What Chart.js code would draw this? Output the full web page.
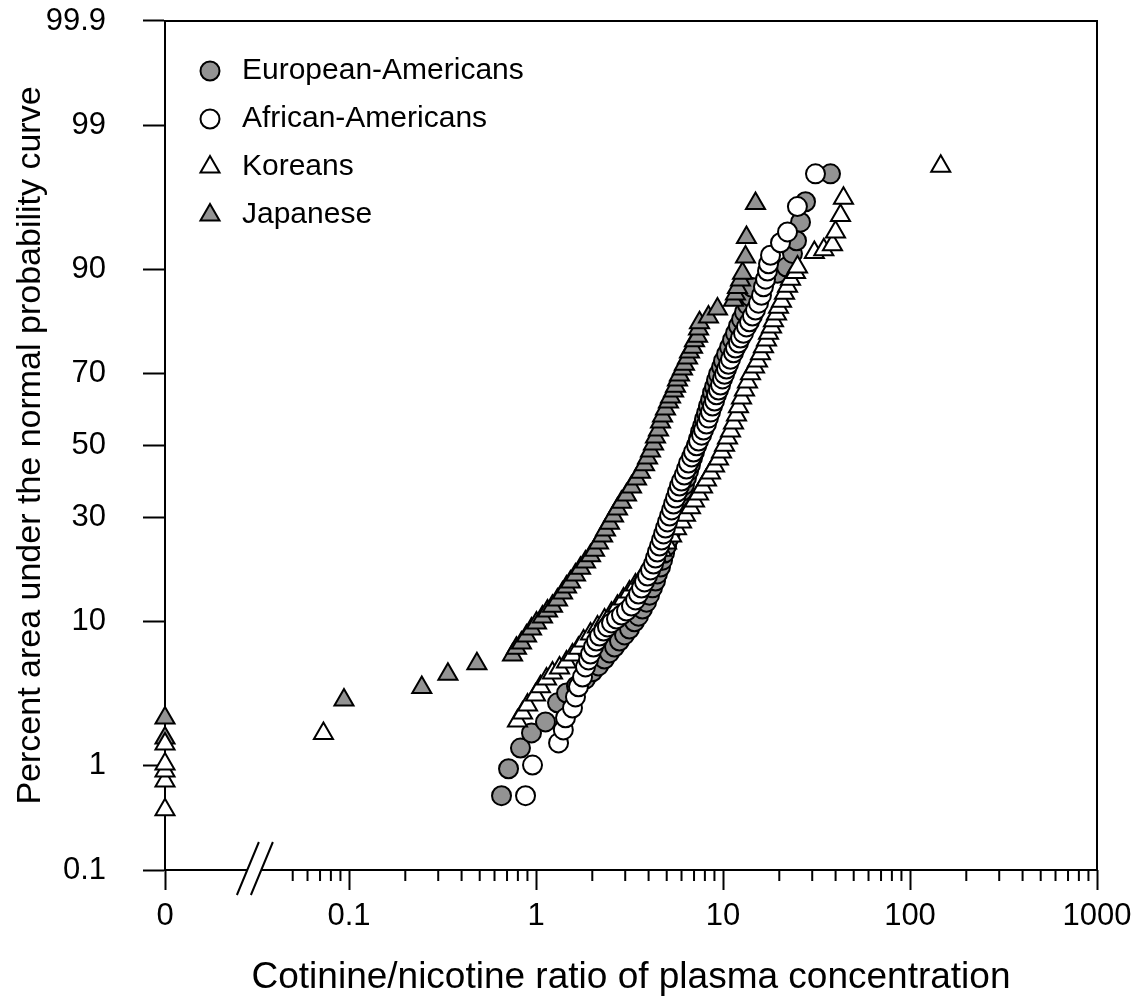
<!DOCTYPE html>
<html>
<head>
<meta charset="utf-8">
<title>Cotinine/nicotine ratio - normal probability plot</title>
<script src="https://cdn.jsdelivr.net/npm/chart.js@4.4.1/dist/chart.umd.min.js"></script>
<style>
  html, body { margin: 0; padding: 0; background: #fff; }
  #wrap { width: 1140px; height: 996px; }
</style>
</head>
<body>
<div id="wrap"><canvas id="probChart" width="1140" height="996"></canvas></div>
<script>
// ---- data (ratio 0 = the "0" column left of the break) ----
const euroRatio = [0.654, 0.713, 0.826, 0.946, 1.124, 1.303, 1.456, 1.646, 1.839, 2.003,
  2.159, 2.325, 2.471, 2.63, 2.795, 2.974, 3.162, 3.363, 3.532, 3.71,
  3.9, 4.046, 4.198, 4.355, 4.46, 4.632, 4.75, 4.87, 4.99, 5.11,
  5.24, 5.37, 5.5, 5.64, 5.78, 5.93, 6.07, 6.22, 6.38, 6.54,
  6.7, 6.87, 7.04, 7.22, 7.4, 7.58, 7.77, 7.96, 8.16, 8.36,
  8.58, 8.79, 9.01, 9.23, 9.46, 9.82, 10.06, 10.44, 10.84, 11.24,
  11.66, 12.1, 12.56, 13.03, 13.52, 14.03, 14.38, 16.88, 19.55, 21.86,
  23.53, 24.72, 25.97, 27.62, 37.57];
const euroPct = [0.54, 0.93, 1.38, 1.82, 2.21, 3.05, 3.58, 4.0, 4.45, 4.97,
  5.43, 6.0, 6.55, 7.12, 7.73, 8.4, 9.08, 9.96, 10.7, 11.7,
  12.7, 13.8, 15.0, 16.2, 17.5, 18.8, 20.2, 21.7, 23.2, 24.8,
  26.5, 28.1, 29.9, 31.7, 33.25, 35.1, 37.0, 38.7, 40.7, 42.6,
  44.4, 46.4, 48.1, 50.1, 51.9, 53.9, 55.6, 57.6, 59.3, 61.3,
  63.0, 65.0, 66.5, 68.3, 69.8, 71.6, 73.1, 74.7, 76.3, 77.9,
  79.3, 80.8, 82.1, 83.4, 84.7, 86.0, 87.5, 88.6, 89.5, 90.3,
  91.9, 93.2, 94.8, 96.2, 97.6];

const afroRatio = [0.879, 0.958, 1.32, 1.40, 1.438, 1.567, 1.626, 1.687, 1.773, 1.839,
  1.908, 1.956, 2.029, 2.106, 2.186, 2.299, 2.41, 2.533, 2.694, 2.865,
  3.047, 3.24, 3.405, 3.532, 3.666, 3.804, 3.948, 4.096, 4.25, 4.355,
  4.46, 4.575, 4.69, 4.81, 4.926, 5.05, 5.18, 5.31, 5.44, 5.572,
  5.71, 5.85, 6.0, 6.21, 6.38, 6.54, 6.79, 6.96, 7.22, 7.4,
  7.68, 7.87, 8.16, 8.36, 8.575, 8.79, 9.01, 9.23, 9.46, 9.7,
  9.94, 10.19, 10.44, 10.7, 10.97, 11.38, 11.66, 12.1, 12.41, 12.87,
  13.35, 13.85, 14.37, 14.92, 15.48, 16.06, 16.46, 16.88, 17.3, 17.52,
  17.95, 20.3, 22.13, 25.0, 31.23];
const afroPct = [0.54, 1.0, 1.52, 1.92, 2.37, 2.8, 3.36, 3.95, 4.6, 5.35,
  5.93, 6.45, 7.12, 7.73, 8.28, 8.85, 9.33, 9.83, 10.33, 10.86,
  11.42, 12.13, 13.05, 13.99, 14.98, 16.03, 17.1, 18.25, 19.42, 20.65,
  21.9, 23.2, 24.57, 25.99, 27.4, 28.9, 30.4, 31.95, 33.5, 35.1,
  36.8, 38.4, 39.8, 41.5, 43.2, 44.9, 46.7, 48.1, 49.9, 51.3,
  53.0, 54.5, 56.2, 57.9, 59.6, 61.3, 62.7, 64.4, 65.7, 67.0,
  68.6, 69.8, 71.1, 72.3, 73.5, 75.0, 76.1, 77.2, 78.3, 79.3,
  80.6, 81.6, 82.7, 83.8, 85.0, 86.3, 87.6, 88.7, 89.8, 90.7,
  91.7, 93.0, 94.0, 95.9, 97.6];

const koreaRatio = [0, 0, 0, 0, 0, 0.073,
  0.796, 0.847, 0.901, 0.994, 1.057, 1.138, 1.225, 1.336, 1.456, 1.567,
  1.687, 1.796, 1.956, 2.132, 2.325, 2.533, 2.727, 2.939, 3.162, 3.405,
  3.666, 3.9, 4.147, 4.41, 4.69, 4.99, 5.31, 5.64, 6.0, 6.3,
  6.7, 7.04, 7.4, 7.77, 8.16, 8.575, 9.01, 9.46, 9.82, 10.19,
  10.57, 10.97, 11.38, 11.81, 12.1, 12.56, 13.03, 13.52, 14.03, 14.74,
  15.29, 15.87, 16.46, 17.09, 17.52, 18.17, 18.62, 19.33, 19.81, 20.55,
  21.33, 22.13, 22.96, 24.42, 25.03, 30.8, 34.6, 38.5, 39.96, 42.49,
  44.08, 146];
const koreaPct = [0.40, 0.73, 0.89, 1.02, 1.49, 1.8,
  2.25, 2.58, 2.95, 3.47, 3.95, 4.45, 4.89, 5.27, 5.76, 6.36,
  7.0, 7.73, 8.5, 9.33, 10.2, 11.1, 12.1, 13.2, 14.3, 15.5,
  16.7, 18.1, 19.4, 20.9, 22.3, 23.9, 25.5, 27.2, 28.9, 30.6,
  32.5, 34.3, 36.2, 38.1, 40.1, 42.1, 44.1, 46.1, 48.1, 50.1,
  52.2, 54.2, 56.5, 58.8, 61.1, 63.5, 65.7, 67.8, 69.9, 71.6,
  73.1, 74.8, 76.4, 77.9, 79.3, 80.6, 81.8, 83.1, 84.3, 85.3,
  86.6, 87.7, 88.7, 89.6, 90.3, 92.0, 92.3, 92.8, 94.0, 95.3,
  96.4, 97.9];

const japanRatio = [0, 0, 0.094, 0.245, 0.338, 0.483,
  0.749, 0.786, 0.836, 0.89, 0.946, 1.006, 1.083, 1.152, 1.225, 1.303,
  1.386, 1.456, 1.529, 1.626, 1.73, 1.839, 1.956, 2.055, 2.159, 2.27,
  2.353, 2.471, 2.597, 2.727, 2.865, 3.047, 3.24, 3.447, 3.621, 3.804,
  3.948, 4.096, 4.25, 4.355, 4.52, 4.632, 4.75, 4.926, 5.11, 5.24,
  5.44, 5.572, 5.71, 5.85, 6.07, 6.22, 6.46, 6.62, 6.87, 7.04,
  7.31, 7.4, 7.49, 8.36, 9.34, 11.38, 11.66, 11.95, 12.41, 12.72,
  13.19, 13.35, 14.92];
const japanPct = [1.66, 2.36, 3.2, 3.9, 4.8, 5.6,
  6.36, 7.0, 7.53, 8.28, 9.08, 9.83, 10.6, 11.4, 12.1, 13.05,
  14.15, 15.15, 16.0, 17.3, 18.6, 19.8, 21.1, 22.3, 23.9, 25.5,
  26.9, 28.6, 30.4, 32.2, 34.0, 35.9, 38.1, 40.4, 42.3, 44.4,
  46.4, 48.4, 50.4, 52.5, 54.5, 56.8, 58.5, 60.5, 62.4, 63.8,
  65.4, 66.7, 68.3, 69.6, 71.1, 72.3, 73.8, 75.2, 76.3, 77.7,
  78.7, 80.2, 81.4, 82.5, 84.0, 85.5, 86.5, 87.5, 88.6, 89.5,
  91.5, 93.5, 96.1];

const yTickPct = [0.1, 1, 10, 30, 50, 70, 90, 99, 99.9];
const xTickVals = [0, 0.1, 1, 10, 100, 1000];
const xTickLabels = ['0', '0.1', '1', '10', '100', '1000'];

// where the "0" column sits on the log axis, and where the axis is broken
const X_ZERO = Math.pow(10, -1.984);
const X_BREAK = 0.031;
const GRAY = '#939393';
const FONT = "'Liberation Sans', Arial, Helvetica, sans-serif";

// inverse normal CDF (Acklam) -> probability axis
function probit(p) {
  const a = [-3.969683028665376e+01, 2.209460984245205e+02, -2.759285104469687e+02, 1.383577518672690e+02, -3.066479806614716e+01, 2.506628277459239e+00];
  const b = [-5.447609879822406e+01, 1.615858368580409e+02, -1.556989798598866e+02, 6.680131188771972e+01, -1.328068155288572e+01];
  const c = [-7.784894002430293e-03, -3.223964580411365e-01, -2.400758277161838e+00, -2.549732539343734e+00, 4.374664141464968e+00, 2.938163982698783e+00];
  const d = [7.784695709041462e-03, 3.224671290700398e-01, 2.445134137142996e+00, 3.754408661907416e+00];
  const lo = 0.02425;
  let q, r;
  if (p < lo) {
    q = Math.sqrt(-2 * Math.log(p));
    return (((((c[0] * q + c[1]) * q + c[2]) * q + c[3]) * q + c[4]) * q + c[5]) / ((((d[0] * q + d[1]) * q + d[2]) * q + d[3]) * q + 1);
  }
  if (p > 1 - lo) {
    q = Math.sqrt(-2 * Math.log(1 - p));
    return -(((((c[0] * q + c[1]) * q + c[2]) * q + c[3]) * q + c[4]) * q + c[5]) / ((((d[0] * q + d[1]) * q + d[2]) * q + d[3]) * q + 1);
  }
  q = p - 0.5;
  r = q * q;
  return (((((a[0] * r + a[1]) * r + a[2]) * r + a[3]) * r + a[4]) * r + a[5]) * q / (((((b[0] * r + b[1]) * r + b[2]) * r + b[3]) * r + b[4]) * r + 1);
}

const toPoints = (ratios, pcts) => ratios.map((v, i) => ({
  x: v === 0 ? X_ZERO : v,
  y: probit(pcts[i] / 100),
}));

const Y_MIN = probit(0.001);
const Y_MAX = probit(0.999);

const series = (label, ratios, pcts, style, fill, order) => ({
  label,
  data: toPoints(ratios, pcts),
  pointStyle: style,
  pointRadius: style === 'circle' ? 9.5 : 11,
  pointBackgroundColor: fill,
  pointBorderColor: '#000',
  pointBorderWidth: 2,
  showLine: false,
  clip: false,
  order,
});

// inset legend, drawn inside the plot frame at top-left
const insetLegend = {
  id: 'insetLegend',
  afterDraw(chart) {
    const { ctx, chartArea: a } = chart;
    ctx.save();
    ctx.font = '30px ' + FONT;
    ctx.textBaseline = 'middle';
    chart.data.datasets.forEach((ds, i) => {
      const y = a.top + 50 + i * 48;
      ctx.fillStyle = ds.pointBackgroundColor;
      ctx.strokeStyle = '#000';
      ctx.lineWidth = 2;
      Chart.helpers.drawPoint(ctx, {
        pointStyle: ds.pointStyle, radius: ds.pointRadius, rotation: 0, borderWidth: 2,
      }, a.left + 45, y);
      ctx.fillStyle = '#000';
      ctx.fillText(ds.label, a.left + 77, y);
    });
    ctx.restore();
  },
};

// frame, broken x axis line and minor log ticks
const axisDecor = {
  id: 'axisDecor',
  afterDraw(chart) {
    const { ctx, chartArea: a, scales: { x } } = chart;
    ctx.save();
    ctx.strokeStyle = '#000';
    ctx.lineWidth = 2;
    ctx.beginPath();
    ctx.moveTo(a.left, a.top);
    ctx.lineTo(a.right, a.top);
    ctx.lineTo(a.right, a.bottom);
    const bx = x.getPixelForValue(X_BREAK);
    ctx.moveTo(a.left, a.bottom);
    ctx.lineTo(bx - 7, a.bottom);
    ctx.moveTo(bx + 7, a.bottom);
    ctx.lineTo(a.right, a.bottom);
    for (const sx of [bx - 7, bx + 7]) {
      ctx.moveTo(sx - 10, a.bottom + 25);
      ctx.lineTo(sx + 12, a.bottom - 28);
    }
    const minor = [];
    for (let m = 5; m <= 9; m++) minor.push(m * 0.01);
    for (const dec of [0.1, 1, 10, 100]) {
      for (let m = 2; m <= 9; m++) minor.push(m * dec);
    }
    minor.forEach((v) => {
      const px = x.getPixelForValue(v);
      ctx.moveTo(px, a.bottom);
      ctx.lineTo(px, a.bottom + 11);
    });
    ctx.stroke();
    ctx.restore();
  },
};

const ctx = document.getElementById('probChart').getContext('2d');
Chart.defaults.font.family = FONT;
Chart.defaults.color = '#000';

new Chart(ctx, {
  type: 'scatter',
  data: {
    datasets: [
      series('European-Americans', euroRatio, euroPct, 'circle', GRAY, 3),
      series('African-Americans', afroRatio, afroPct, 'circle', '#ffffff', 0),
      series('Koreans', koreaRatio, koreaPct, 'triangle', '#ffffff', 1),
      series('Japanese', japanRatio, japanPct, 'triangle', GRAY, 2),
    ],
  },
  options: {
    responsive: false,
    animation: false,
    events: [],
    devicePixelRatio: 1,
    layout: { padding: { top: 21, right: 43, left: 0, bottom: 0 } },
    plugins: {
      legend: { display: false },
      tooltip: { enabled: false },
    },
    scales: {
      x: {
        type: 'logarithmic',
        position: 'bottom',
        min: X_ZERO,
        max: 1000,
        afterBuildTicks: (scale) => {
          scale.ticks = xTickVals.map((v) => ({ value: v === 0 ? X_ZERO : v, major: true }));
        },
        afterFit: (scale) => {
          scale.height = 126;
          scale.paddingLeft = 0;
          scale.paddingRight = 0;
        },
        ticks: {
          autoSkip: false,
          maxRotation: 0,
          minRotation: 0,
          padding: 8,
          font: { size: 31 },
          callback: (value, index) => xTickLabels[index],
        },
        grid: {
          drawOnChartArea: false,
          tickLength: 20,
          tickWidth: 2,
          tickColor: '#000',
        },
        border: { display: false },
        title: {
          display: true,
          text: 'Cotinine/nicotine ratio of plasma concentration',
          font: { size: 37, lineHeight: 1 },
          padding: { top: 0, bottom: 0 },
        },
      },
      y: {
        type: 'linear',
        min: Y_MIN,
        max: Y_MAX,
        afterBuildTicks: (scale) => {
          scale.ticks = yTickPct.map((p) => ({ value: probit(p / 100) }));
        },
        afterFit: (scale) => {
          scale.width = 165;
          scale.paddingTop = 0;
          scale.paddingBottom = 0;
        },
        ticks: {
          autoSkip: false,
          padding: 37,
          font: { size: 31 },
          callback: (value, index) => String(yTickPct[index]),
        },
        grid: {
          drawOnChartArea: false,
          tickLength: 22,
          tickWidth: 2,
          tickColor: '#000',
        },
        border: { display: true, color: '#000', width: 2 },
        title: {
          display: true,
          text: 'Percent area under the normal probability curve',
          font: { size: 34, lineHeight: 1 },
          padding: { top: 14, bottom: 0 },
        },
      },
    },
  },
  plugins: [axisDecor, insetLegend],
});
</script>
</body>
</html>
